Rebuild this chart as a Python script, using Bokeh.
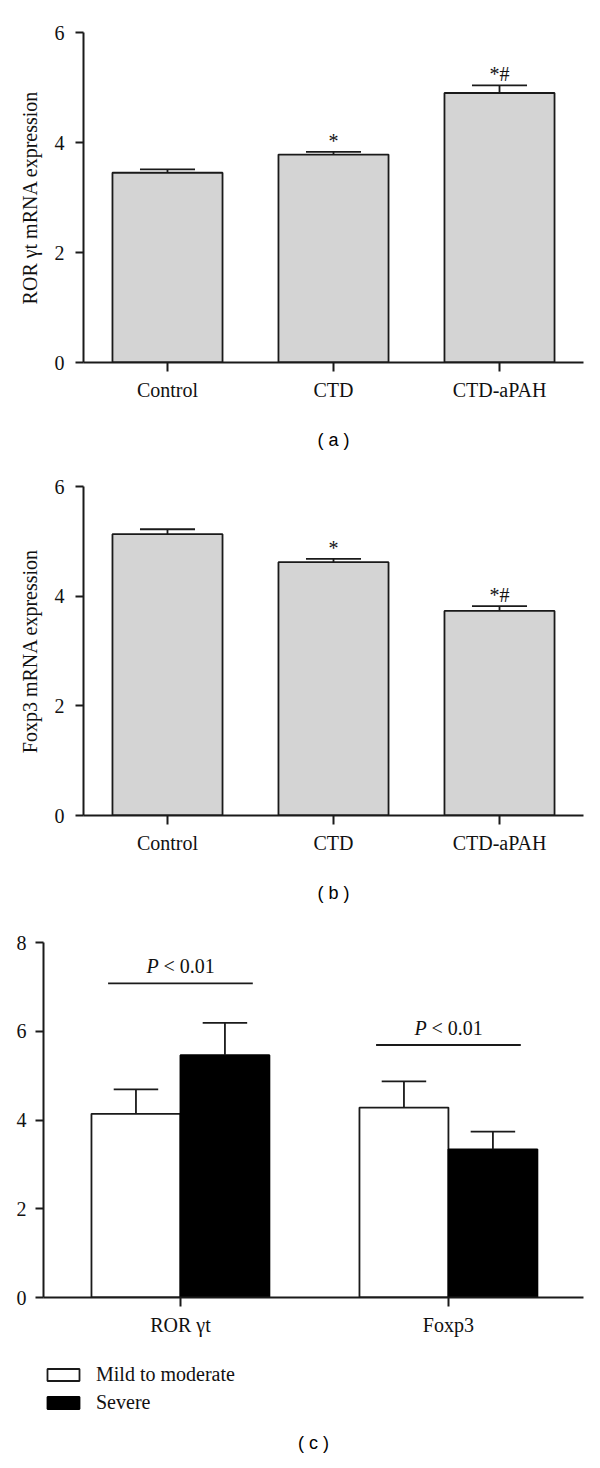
from bokeh.plotting import figure
from bokeh.models import FixedTicker, Legend, LegendItem
from bokeh.layouts import column
from bokeh.embed import file_html
from bokeh.resources import INLINE
from bokeh.core.properties import value

# ---------------- data ----------------
groups = ["Control", "CTD", "CTD-aPAH"]
ror_mean = [3.45, 3.78, 4.90]
ror_err = [0.06, 0.05, 0.14]
ror_marks = ["", "*", "*#"]
foxp3_mean = [5.13, 4.62, 3.73]
foxp3_err = [0.09, 0.06, 0.09]
foxp3_marks = ["", "*", "*#"]

c_genes = ["ROR \u03b3t", "Foxp3"]
mild_mean = [4.14, 4.28]
mild_err = [0.55, 0.59]
severe_mean = [5.46, 3.34]
severe_err = [0.73, 0.40]
sig_line_y = [7.08, 5.69]
p_symbol = ["P", "P"]
p_rest = ["< 0.01", "< 0.01"]
series_names = ["Mild to moderate", "Severe"]

SERIF = "Liberation Serif"
SANS = "Liberation Sans"
FS = "20px"
INK = "#1a1a1a"


def style(p):
    p.outline_line_color = None
    p.grid.visible = False
    p.background_fill_color = "white"
    for ax in (p.xaxis[0], p.yaxis[0]):
        ax.axis_line_width = 2
        ax.axis_line_color = INK
        ax.major_tick_line_width = 2
        ax.major_tick_line_color = INK
        ax.minor_tick_line_color = None
        ax.major_tick_in = 0
        ax.major_tick_out = 8
        ax.major_label_text_font = SERIF
        ax.major_label_text_font_size = FS
        ax.major_label_text_color = "#111111"
    p.xaxis.major_tick_out = 9
    p.xaxis.major_label_standoff = 7
    p.yaxis.major_label_standoff = 11


def bar_panel(vals, errs, marks, ylabel, caption, height, mbt, mbb):
    x = list(range(1, len(groups) + 1))
    p = figure(width=600, height=height, x_range=(0.494, 3.506), y_range=(0, 6),
               output_backend="svg", toolbar_location=None, frame_align=False,
               min_border_left=83, min_border_right=17,
               min_border_top=mbt, min_border_bottom=mbb)
    style(p)
    w = 0.663
    p.vbar(x=x, top=vals, bottom=0, width=w, fill_color="#d4d4d4",
           line_color=INK, line_width=1.8)
    tops = [v + e for v, e in zip(vals, errs)]
    p.segment(x0=x, y0=vals, x1=x, y1=tops, line_color=INK, line_width=1.8)
    p.segment(x0=[xi - w / 4 for xi in x], y0=tops, x1=[xi + w / 4 for xi in x], y1=tops,
              line_color=INK, line_width=1.8)
    p.text(x=x, y=tops, text=marks, text_align="center", text_baseline="bottom",
           text_font=value(SERIF), text_font_size=FS, text_color="#111111")
    p.xaxis.ticker = FixedTicker(ticks=x)
    p.xaxis.major_label_overrides = {xi: g for xi, g in zip(x, groups)}
    p.yaxis.ticker = FixedTicker(ticks=[0, 2, 4, 6])
    p.yaxis.axis_label = ylabel
    p.yaxis.axis_label_text_font = SERIF
    p.yaxis.axis_label_text_font_size = FS
    p.yaxis.axis_label_text_font_style = "normal"
    p.yaxis.axis_label_text_color = "#111111"
    p.yaxis.axis_label_standoff = 11
    p.xaxis.axis_label = caption
    p.xaxis.axis_label_text_font = SANS
    p.xaxis.axis_label_text_font_size = "18px"
    p.xaxis.axis_label_text_font_style = "normal"
    p.xaxis.axis_label_text_color = "black"
    p.xaxis.axis_label_standoff = 26
    return p


pa = bar_panel(ror_mean, ror_err, ror_marks, "ROR \u03b3t mRNA expression", "( a )", 470, 32, 108)
pb = bar_panel(foxp3_mean, foxp3_err, foxp3_marks, "Foxp3 mRNA expression", "( b )", 455, 16, 110)

# ---------------- panel c ----------------
xc = [1, 2]
bw = 0.332
pc = figure(width=600, height=420, x_range=(0.489, 2.504), y_range=(0, 8),
            output_backend="svg", toolbar_location=None, frame_align=False,
            min_border_left=43, min_border_right=17, min_border_top=17, min_border_bottom=48)
style(pc)
pc.yaxis.major_label_standoff = 9
xm = [xi - bw / 2 for xi in xc]
xs = [xi + bw / 2 for xi in xc]
pc.vbar(x=xm, top=mild_mean, bottom=0, width=bw, fill_color="white",
        line_color=INK, line_width=1.8)
pc.vbar(x=xs, top=severe_mean, bottom=0, width=bw, fill_color="black",
        line_color="black", line_width=1.8)
for xx, mv, ev in ((xm, mild_mean, mild_err), (xs, severe_mean, severe_err)):
    tops = [m + e for m, e in zip(mv, ev)]
    pc.segment(x0=xx, y0=mv, x1=xx, y1=tops, line_color=INK, line_width=1.8)
    pc.segment(x0=[v - bw / 4 for v in xx], y0=tops, x1=[v + bw / 4 for v in xx], y1=tops,
               line_color=INK, line_width=1.8)
pc.segment(x0=[v - 0.27 for v in xc], y0=sig_line_y, x1=[v + 0.27 for v in xc], y1=sig_line_y,
           line_color=INK, line_width=1.8)
pc.text(x=xc, y=sig_line_y, text=p_symbol, text_align="left", text_baseline="bottom",
        x_offset=-34, y_offset=-6, text_font=value(SERIF), text_font_size=FS,
        text_font_style="italic", text_color="#111111")
pc.text(x=xc, y=sig_line_y, text=p_rest, text_align="left", text_baseline="bottom",
        x_offset=-17, y_offset=-6, text_font=value(SERIF), text_font_size=FS,
        text_color="#111111")
pc.xaxis.ticker = FixedTicker(ticks=xc)
pc.xaxis.major_label_overrides = {xi: g for xi, g in zip(xc, c_genes)}
pc.yaxis.ticker = FixedTicker(ticks=[0, 2, 4, 6, 8])

# ---------------- legend + caption for panel c ----------------
pl = figure(width=600, height=123, x_range=(0, 3), y_range=(0, 10),
            output_backend="svg", toolbar_location=None, frame_align=False,
            x_axis_location=None, y_axis_location=None,
            min_border_left=43, min_border_right=17, min_border_top=18, min_border_bottom=40,
            title="( c )", title_location="below")
pl.outline_line_color = None
pl.grid.visible = False
pl.title.align = "center"
pl.title.text_font = SANS
pl.title.text_font_size = "18px"
pl.title.text_font_style = "normal"
pl.title.text_color = "black"
pl.title.standoff = 4
# legend-swatch renderers only (no bar drawn in this strip)
nan = float("nan")
s_mild = pl.vbar(x=xm, top=[nan] * len(xm), bottom=0, width=bw, fill_color="white",
                 line_color=INK, line_width=1.8)
s_sev = pl.vbar(x=xs, top=[nan] * len(xs), bottom=0, width=bw, fill_color="black",
                line_color="black", line_width=1.8)
legend = Legend(items=[LegendItem(label=series_names[0], renderers=[s_mild]),
                       LegendItem(label=series_names[1], renderers=[s_sev])],
                location="top_left", orientation="vertical",
                glyph_width=40, glyph_height=15, label_height=23, spacing=5,
                label_standoff=13, margin=0, padding=0,
                label_text_font=SERIF, label_text_font_size=FS, label_text_color="#111111",
                border_line_color=None, background_fill_alpha=0)
pl.add_layout(legend)

layout = column(pa, pb, pc, pl, spacing=0)
open("out.html", "w").write(file_html(layout, INLINE))
